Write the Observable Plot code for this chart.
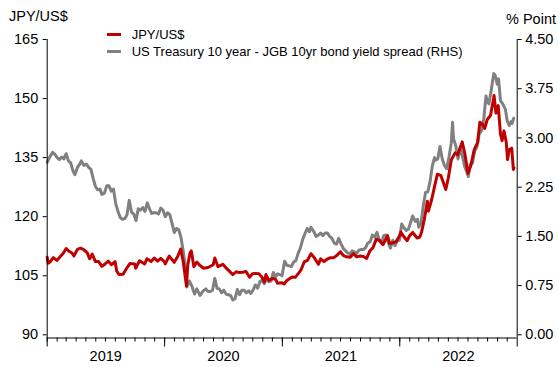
<!DOCTYPE html>
<html>
<head>
<meta charset="utf-8">
<script src="https://cdn.jsdelivr.net/npm/d3@7"></script>
<script src="https://cdn.jsdelivr.net/npm/@observablehq/plot@0.6"></script>
<style>
  html, body { margin: 0; padding: 0; background: #fff; }
  #wrap { position: relative; width: 558px; height: 367px; font-family: Arial, "Liberation Sans", sans-serif; color: #000; }
  .abs { position: absolute; white-space: nowrap; line-height: 1; }
  .title { font-size: 14.5px; }
  .leg { font-size: 13px; }
  .sw { position: absolute; height: 3px; width: 14px; }
</style>
</head>
<body>
<div id="wrap"></div>
<script>
// ---- Data ----
// JPY per US$ (left axis)
const jpySeries = [
["2019-01-01",109.7],["2019-01-04",108.2],["2019-01-10",108.5],["2019-01-20",109.6],["2019-01-31",108.9],["2019-02-10",109.8],["2019-02-20",110.7],["2019-03-01",111.9],["2019-03-10",111.2],["2019-03-20",110.7],["2019-03-25",110.0],["2019-04-05",111.7],["2019-04-15",112.0],["2019-04-25",111.6],["2019-05-05",110.9],["2019-05-13",109.3],["2019-05-21",110.5],["2019-05-31",108.6],["2019-06-10",108.6],["2019-06-20",107.4],["2019-06-30",108.0],["2019-07-10",108.7],["2019-07-20",107.8],["2019-07-31",108.6],["2019-08-05",106.2],["2019-08-12",105.3],["2019-08-25",105.4],["2019-09-05",106.9],["2019-09-15",108.1],["2019-09-30",108.0],["2019-10-03",106.9],["2019-10-15",108.8],["2019-10-31",108.0],["2019-11-07",109.3],["2019-11-20",108.6],["2019-11-30",109.5],["2019-12-10",108.7],["2019-12-20",109.4],["2019-12-31",108.6],
["2020-01-03",108.0],["2020-01-15",110.0],["2020-01-31",108.4],["2020-02-10",109.8],["2020-02-20",111.8],["2020-02-28",108.5],["2020-03-09",102.4],["2020-03-13",107.8],["2020-03-20",110.8],["2020-03-24",111.3],["2020-04-01",107.3],["2020-04-10",108.5],["2020-04-20",107.6],["2020-05-01",106.9],["2020-05-15",107.1],["2020-05-31",107.8],["2020-06-05",109.5],["2020-06-15",107.3],["2020-06-30",107.9],["2020-07-10",107.0],["2020-07-31",105.3],["2020-08-10",106.0],["2020-08-20",105.8],["2020-08-31",105.9],["2020-09-10",106.1],["2020-09-21",104.6],["2020-09-30",105.5],["2020-10-10",105.6],["2020-10-20",105.5],["2020-10-30",104.6],["2020-11-06",103.4],["2020-11-11",105.3],["2020-11-20",103.8],["2020-11-30",104.3],["2020-12-10",104.2],["2020-12-17",103.1],["2020-12-31",103.2],
["2021-01-06",102.9],["2021-01-15",103.8],["2021-01-31",104.7],["2021-02-10",104.6],["2021-02-20",105.6],["2021-02-28",106.5],["2021-03-10",108.5],["2021-03-20",108.9],["2021-03-31",110.6],["2021-04-10",109.6],["2021-04-23",107.9],["2021-04-30",109.3],["2021-05-10",108.6],["2021-05-20",109.2],["2021-05-31",109.6],["2021-06-10",109.6],["2021-06-20",110.2],["2021-06-30",111.1],["2021-07-10",110.1],["2021-07-20",109.8],["2021-07-31",109.7],["2021-08-10",110.6],["2021-08-20",109.8],["2021-08-31",110.0],["2021-09-10",109.9],["2021-09-20",109.4],["2021-09-30",111.3],["2021-10-10",112.2],["2021-10-20",114.3],["2021-10-31",113.9],["2021-11-10",112.9],["2021-11-24",115.2],["2021-11-30",113.2],["2021-12-10",113.4],["2021-12-20",113.6],["2021-12-31",115.1],
["2022-01-04",116.1],["2022-01-10",115.3],["2022-01-24",113.9],["2022-01-31",115.1],["2022-02-10",116.0],["2022-02-24",114.6],["2022-03-04",114.8],["2022-03-10",116.2],["2022-03-18",119.2],["2022-03-28",123.9],["2022-03-31",121.4],["2022-04-10",124.3],["2022-04-20",128.0],["2022-04-28",130.8],["2022-05-09",130.4],["2022-05-24",126.9],["2022-06-01",129.9],["2022-06-10",134.4],["2022-06-22",136.2],["2022-06-30",135.7],["2022-07-14",139.0],["2022-07-22",136.1],["2022-08-01",131.0],["2022-08-10",133.0],["2022-08-20",136.9],["2022-08-31",138.9],["2022-09-07",144.0],["2022-09-15",143.5],["2022-09-22",142.4],["2022-09-30",144.7],["2022-10-10",145.7],["2022-10-20",150.2],["2022-10-21",150.8],["2022-10-27",146.3],["2022-11-03",148.2],["2022-11-10",141.0],["2022-11-15",139.3],["2022-11-21",141.8],["2022-11-28",138.9],["2022-12-02",134.5],["2022-12-07",137.0],["2022-12-15",137.4],["2022-12-20",132.0],["2022-12-22",132.4]
];

// US Treasury 10y - JGB 10y spread, % points (right axis)
const spreadSeries = [
["2019-01-01",2.63],["2019-01-04",2.66],["2019-01-10",2.72],["2019-01-18",2.78],["2019-01-25",2.75],["2019-02-01",2.70],["2019-02-08",2.67],["2019-02-15",2.71],["2019-02-22",2.68],["2019-03-01",2.76],["2019-03-08",2.65],["2019-03-15",2.62],["2019-03-22",2.50],["2019-03-28",2.44],["2019-04-05",2.55],["2019-04-12",2.60],["2019-04-17",2.65],["2019-04-25",2.58],["2019-05-03",2.60],["2019-05-10",2.55],["2019-05-17",2.52],["2019-05-24",2.38],["2019-05-31",2.26],["2019-06-07",2.21],["2019-06-14",2.22],["2019-06-20",2.14],["2019-06-28",2.16],["2019-07-05",2.27],["2019-07-12",2.27],["2019-07-19",2.19],["2019-07-26",2.22],["2019-08-02",2.00],["2019-08-09",1.88],["2019-08-16",1.79],["2019-08-23",1.76],["2019-08-30",1.77],["2019-09-06",1.83],["2019-09-13",2.05],["2019-09-20",1.87],["2019-09-27",1.84],["2019-10-04",1.74],["2019-10-11",1.92],["2019-10-18",1.90],["2019-10-25",1.94],["2019-11-01",1.88],["2019-11-08",2.01],["2019-11-15",1.92],["2019-11-22",1.85],["2019-11-29",1.86],["2019-12-06",1.86],["2019-12-13",1.84],["2019-12-20",1.93],["2019-12-27",1.90],
["2020-01-03",1.80],["2020-01-10",1.86],["2020-01-17",1.83],["2020-01-24",1.70],["2020-01-31",1.56],["2020-02-07",1.62],["2020-02-14",1.60],["2020-02-21",1.48],["2020-02-28",1.27],["2020-03-05",1.05],["2020-03-10",0.73],["2020-03-18",0.82],["2020-03-25",0.75],["2020-04-03",0.62],["2020-04-10",0.70],["2020-04-20",0.60],["2020-04-30",0.67],["2020-05-08",0.70],["2020-05-15",0.66],["2020-05-22",0.66],["2020-05-29",0.68],["2020-06-05",0.86],["2020-06-12",0.71],["2020-06-19",0.70],["2020-06-26",0.64],["2020-07-03",0.68],["2020-07-10",0.62],["2020-07-17",0.61],["2020-07-24",0.60],["2020-07-31",0.53],["2020-08-07",0.55],["2020-08-14",0.69],["2020-08-21",0.61],["2020-08-28",0.68],["2020-09-04",0.68],["2020-09-11",0.64],["2020-09-18",0.67],["2020-09-25",0.63],["2020-10-02",0.68],["2020-10-09",0.76],["2020-10-16",0.71],["2020-10-23",0.81],["2020-10-30",0.83],["2020-11-06",0.78],["2020-11-13",0.87],["2020-11-20",0.81],["2020-11-27",0.82],["2020-12-04",0.95],["2020-12-11",0.89],["2020-12-18",0.93],["2020-12-31",0.90],
["2021-01-08",1.12],["2021-01-15",1.06],["2021-01-22",1.05],["2021-01-29",1.04],["2021-02-05",1.11],["2021-02-12",1.13],["2021-02-19",1.24],["2021-02-26",1.32],["2021-03-05",1.45],["2021-03-12",1.54],["2021-03-19",1.62],["2021-03-26",1.57],["2021-03-31",1.64],["2021-04-09",1.57],["2021-04-16",1.50],["2021-04-23",1.52],["2021-04-30",1.55],["2021-05-07",1.51],["2021-05-14",1.55],["2021-05-21",1.55],["2021-05-28",1.50],["2021-06-04",1.47],["2021-06-11",1.40],["2021-06-18",1.38],["2021-06-25",1.47],["2021-07-02",1.39],["2021-07-09",1.32],["2021-07-16",1.28],["2021-07-23",1.25],["2021-07-30",1.23],["2021-08-06",1.28],["2021-08-13",1.26],["2021-08-20",1.24],["2021-08-27",1.29],["2021-09-03",1.30],["2021-09-10",1.30],["2021-09-17",1.33],["2021-09-24",1.40],["2021-10-01",1.42],["2021-10-08",1.52],["2021-10-15",1.49],["2021-10-22",1.56],["2021-10-29",1.45],["2021-11-05",1.39],["2021-11-12",1.51],["2021-11-19",1.52],["2021-11-26",1.41],["2021-12-03",1.32],["2021-12-10",1.44],["2021-12-17",1.36],["2021-12-24",1.43],["2021-12-31",1.44],
["2022-01-07",1.69],["2022-01-14",1.63],["2022-01-21",1.59],["2022-01-28",1.61],["2022-02-04",1.72],["2022-02-10",1.81],["2022-02-18",1.73],["2022-02-25",1.76],["2022-03-01",1.64],["2022-03-08",1.70],["2022-03-15",1.96],["2022-03-22",2.17],["2022-03-29",2.18],["2022-04-05",2.33],["2022-04-12",2.57],["2022-04-19",2.70],["2022-04-22",2.66],["2022-04-29",2.68],["2022-05-06",2.87],["2022-05-13",2.68],["2022-05-20",2.58],["2022-05-27",2.53],["2022-06-03",2.71],["2022-06-10",2.92],["2022-06-14",3.24],["2022-06-17",2.99],["2022-06-24",2.88],["2022-07-01",2.68],["2022-07-08",2.86],["2022-07-15",2.72],["2022-07-22",2.56],["2022-07-29",2.47],["2022-08-02",2.41],["2022-08-08",2.60],["2022-08-15",2.62],["2022-08-22",2.80],["2022-08-29",2.87],["2022-09-05",3.06],["2022-09-12",3.11],["2022-09-19",3.28],["2022-09-26",3.64],["2022-09-30",3.55],["2022-10-05",3.52],["2022-10-12",3.72],["2022-10-20",3.98],["2022-10-24",3.96],["2022-10-31",3.82],["2022-11-04",3.90],["2022-11-10",3.57],["2022-11-17",3.52],["2022-11-25",3.44],["2022-12-01",3.26],["2022-12-07",3.19],["2022-12-13",3.25],["2022-12-16",3.22],["2022-12-21",3.30]
];

const leftTicks = [90, 105, 120, 135, 150, 165];
const rightTicks = [0, 0.75, 1.5, 2.25, 3.0, 3.75, 4.5];
const yearLabels = ["2019", "2020", "2021", "2022"];
const leftTitle = "JPY/US$";
const rightTitle = "% Point";
const seriesNames = ["JPY/US$", "US Treasury 10 year - JGB 10yr bond yield spread (RHS)"];
const seriesColors = ["#c00000", "#808080"];

// ---- Scales mapping ----
const leftMin = 90, leftMax = 165, rightMin = 0, rightMax = 4.5;
const toLeft = s => leftMin + (s - rightMin) * (leftMax - leftMin) / (rightMax - rightMin);
const toRight = v => rightMin + (v - leftMin) * (rightMax - rightMin) / (leftMax - leftMin);

const jpy = jpySeries.map(([d, v]) => ({date: new Date(d), v}));
const spread = spreadSeries.map(([d, s]) => ({date: new Date(d), v: toLeft(s)}));

const xStart = new Date("2019-01-01"), xEnd = new Date("2023-01-01");
const yBottom = 89.19;
const months = d3.utcMonths(xStart, xEnd);
const years = d3.utcYears(xStart, d3.utcDay.offset(xEnd, 1));
const yearMids = yearLabels.map(y => new Date(`${y}-07-02`));

const chart = Plot.plot({
  width: 558,
  height: 367,
  marginLeft: 46.7,
  marginRight: 41.3,
  marginTop: 39,
  marginBottom: 29.5,
  style: {fontFamily: 'Arial, "Liberation Sans", sans-serif', fontSize: "14.5px", color: "#000", background: "#fff"},
  x: {type: "utc", domain: [xStart, xEnd]},
  y: {domain: [yBottom, leftMax]},
  marks: [
    Plot.lineY(spread, {x: "date", y: "v", stroke: seriesColors[1], strokeWidth: 3}),
    Plot.lineY(jpy, {x: "date", y: "v", stroke: seriesColors[0], strokeWidth: 3}),
    Plot.ruleX([xStart, xEnd], {stroke: "#000", strokeWidth: 1}),
    Plot.ruleY([yBottom], {stroke: "#000", strokeWidth: 1}),
    Plot.axisY(leftTicks, {anchor: "left", tickSize: 4, tickPadding: 5, label: null, fontSize: 14.5}),
    Plot.axisY(rightTicks.map(toLeft), {anchor: "right", tickSize: 4, tickPadding: 4, label: null, fontSize: 14.5,
      tickFormat: v => toRight(v).toFixed(2)}),
    Plot.axisX(months, {anchor: "bottom", tickSize: 4, tickFormat: () => "", label: null}),
    Plot.axisX(years, {anchor: "bottom", tickSize: 9, tickFormat: () => "", label: null}),
    Plot.axisX(yearMids, {anchor: "bottom", tickSize: 0, tickPadding: 12.5, label: null, fontSize: 14.5,
      tickFormat: d => d3.utcFormat("%Y")(d)})
  ]
});

const wrap = document.getElementById("wrap");
wrap.appendChild(chart);

function addText(txt, cls, left, top) {
  const s = document.createElement("div");
  s.className = "abs " + cls;
  s.textContent = txt;
  s.style.left = left + "px";
  s.style.top = top + "px";
  wrap.appendChild(s);
}
addText(leftTitle, "title", 9, 9.3);
addText(rightTitle, "title", 506, 11.5);

// legend
const legRows = [34, 51];
seriesNames.forEach((name, i) => {
  const sw = document.createElement("div");
  sw.className = "sw";
  sw.style.background = seriesColors[i];
  sw.style.left = "106.7px";
  sw.style.top = (legRows[i] - 1.5) + "px";
  wrap.appendChild(sw);
  addText(name, "leg", 131.7, legRows[i] + 4.6 - 11);
});
</script>
</body>
</html>
